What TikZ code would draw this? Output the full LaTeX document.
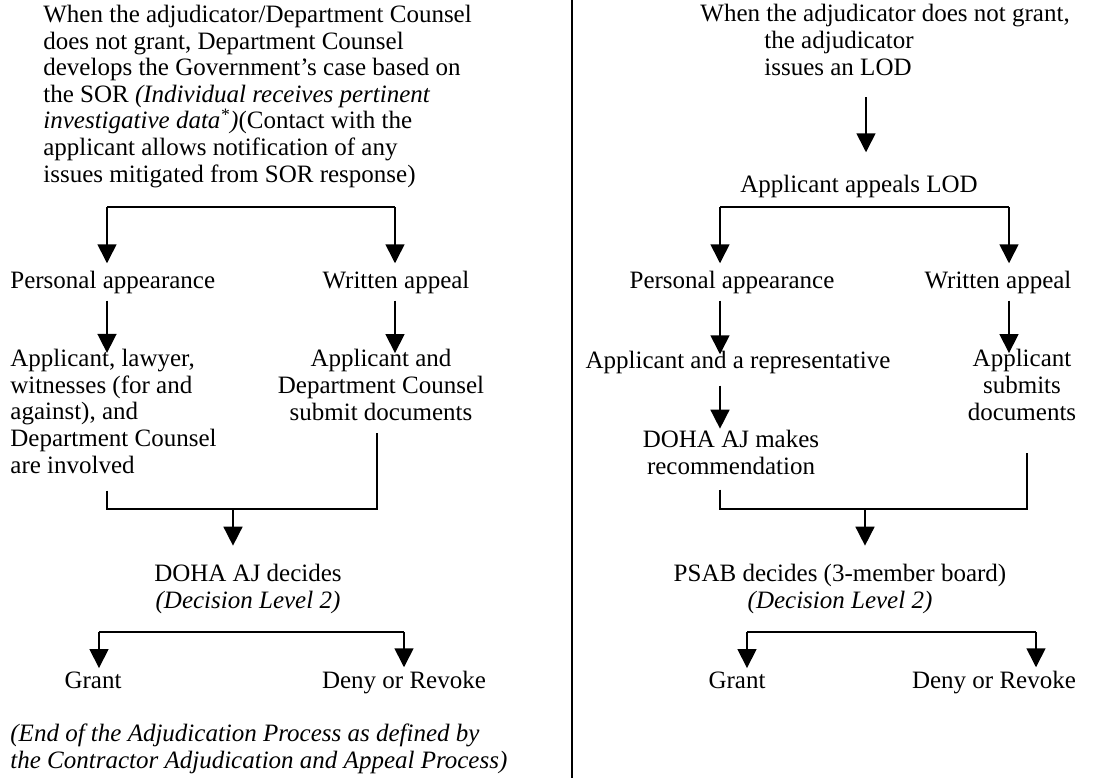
\documentclass[tikz,border=0pt]{standalone}
\usepackage{fontspec}
\setmainfont{Liberation Serif}
\usetikzlibrary{arrows.meta,positioning,calc}

\begin{document}
\begin{tikzpicture}[x=0.5pt, y=-0.5pt,
    txt/.style={inner sep=3.5pt, font=\fontsize{12.5}{13.3}\selectfont},
    flow/.style={line width=0.8pt},
    arr/.style={flow, -{Triangle[length=9.5pt,width=9.5pt]}}]
    \useasboundingbox (0,0) rectangle (1115,778);

    % Separator between the two processes
    \draw[line width=0.9pt] (572,0) -- (572,778);

    % ---- Left side: contractor process ----
    % (multi-line nodes sit on the baseline of their last line)
    \node[txt, anchor=base west, align=left] (lgov) at (36,182)
      {When the adjudicator/Department Counsel\\
       does not grant, Department Counsel\\
       develops the Government's case based on\\
       the SOR \textit{(Individual receives pertinent}\\
       \textit{investigative data\textsuperscript{*})}(Contact with the\\
       applicant allows notification of any\\
       issues mitigated from SOR response)};
    \node[txt, anchor=base west] (lpers) at (3,288) {Personal appearance};
    \node[txt, anchor=base] (lwrit) at (396,288) {Written appeal};
    \node[txt, anchor=base west, align=left] (lappl) at (3,473)
      {Applicant, lawyer,\\ witnesses (for and\\ against), and\\
       Department Counsel\\ are involved};
    \node[txt, anchor=base, align=center] (lsub) at (381,420)
      {Applicant and\\ Department Counsel\\ submit documents};
    \node[txt, anchor=base, align=center] (ldoha) at (248,608)
      {DOHA AJ decides\\ \textit{(Decision Level 2)}};
    \node[txt, anchor=base] (lgrant) at (93,688) {Grant};
    \node[txt, anchor=base] (ldeny) at (404,688) {Deny or Revoke};
    \node[txt, anchor=base west, align=left, font=\fontsize{12.5}{13.3}\selectfont\itshape] (lend) at (3,768)
      {(End of the Adjudication Process as defined by\\
       the Contractor Adjudication and Appeal Process)};

    % Forks and joins
    \coordinate (lfL) at (107,207);
    \coordinate (lfR) at (395,207);
    \coordinate (ljL) at (107,509);
    \coordinate (ljR) at (377,509);
    \coordinate (ljM) at (233,509);
    \coordinate (lgL) at (99,632);
    \coordinate (lgR) at (404,632);

    \draw[flow] (lfL) -- (lfR);
    \draw[arr] (lfL) -- (lfL |- lpers.north);
    \draw[arr] (lfR) -- (lfR |- lwrit.north);
    \draw[arr] (lfL |- lpers.south) -- ([yshift=-5.5pt]lfL |- lappl.north);
    \draw[arr] (lfR |- lwrit.south) -- ([yshift=-5.5pt]lfR |- lsub.north);
    \draw[flow, shorten <=5pt, shorten >=2.5pt] (ljL |- lappl.south) -- (ljL) -- (ljR) -- (ljR |- lsub.south);
    \draw[arr, shorten >=5.5pt] (ljM) -- (ljM |- ldoha.north);
    \draw[flow] (lgL) -- (lgR);
    \draw[arr] (lgL) -- ([yshift=-2pt]lgL |- lgrant.north);
    \draw[arr] (lgR) -- ([yshift=-2pt]lgR |- ldeny.north);

    % ---- Right side: military/civilian process ----
    \node[txt, anchor=base west, align=left] (rgov) at (693,75)
      {When the adjudicator does not grant,\\
       \hspace*{32pt}the adjudicator\\
       \hspace*{32pt}issues an LOD};
    \node[txt, anchor=base] (rapp) at (859,192) {Applicant appeals LOD};
    \node[txt, anchor=base] (rpers) at (732,288) {Personal appearance};
    \node[txt, anchor=base] (rwrit) at (998,288) {Written appeal};
    \node[txt, anchor=base] (rrep) at (738,368) {Applicant and a representative};
    \node[txt, anchor=base, align=center] (rsubm) at (1022,420)
      {Applicant\\ submits\\ documents};
    \node[txt, anchor=base, align=center] (rdoha) at (731,474)
      {DOHA AJ makes\\ recommendation};
    \node[txt, anchor=base, align=center] (rpsab) at (840,608)
      {PSAB decides (3-member board)\\ \textit{(Decision Level 2)}};
    \node[txt, anchor=base] (rgrant) at (737,688) {Grant};
    \node[txt, anchor=base] (rdeny) at (994,688) {Deny or Revoke};

    \coordinate (rtop) at (866,97);
    \coordinate (rfL) at (720,207);
    \coordinate (rfR) at (1009,207);
    \coordinate (rjL) at (720,509);
    \coordinate (rjR) at (1027,509);
    \coordinate (rjM) at (865,509);
    \coordinate (rgL) at (747,632);
    \coordinate (rgR) at (1036,632);

    \draw[arr, shorten >=7.5pt] (rtop) -- (rtop |- rapp.north);
    \draw[flow] (rfL) -- (rfR);
    \draw[arr] (rfL) -- (rfL |- rpers.north);
    \draw[arr] (rfR) -- (rfR |- rwrit.north);
    \draw[arr] (rfL |- rpers.south) -- ([yshift=-5.5pt]rfL |- rrep.north);
    \draw[arr] (rfR |- rwrit.south) -- ([yshift=-5.5pt]rfR |- rsubm.north);
    \draw[arr, shorten <=2.5pt] (rfL |- rrep.south) -- ([yshift=-3pt]rfL |- rdoha.north);
    \draw[flow, shorten <=4pt, shorten >=12.5pt] (rjL |- rdoha.south) -- (rjL) -- (rjR) -- (rjR |- rsubm.south);
    \draw[arr, shorten >=5.5pt] (rjM) -- (rjM |- rpsab.north);
    \draw[flow] (rgL) -- (rgR);
    \draw[arr] (rgL) -- ([yshift=-2pt]rgL |- rgrant.north);
    \draw[arr] (rgR) -- ([yshift=-2pt]rgR |- rdeny.north);
\end{tikzpicture}
\end{document}
